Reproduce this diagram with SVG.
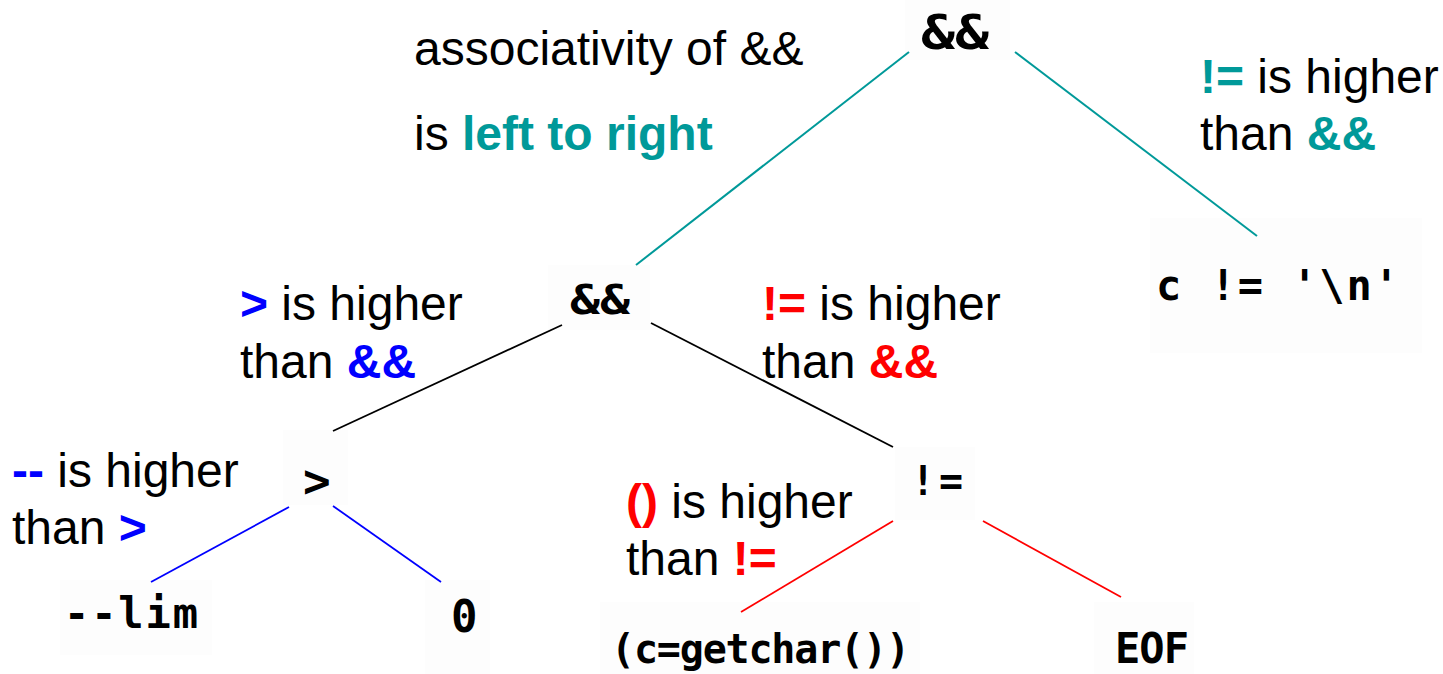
<svg xmlns="http://www.w3.org/2000/svg" width="1443" height="674" viewBox="0 0 1443 674">
<style>
.box{fill:#fdfdfd;stroke:none}
.code{font-family:"DejaVu Sans Mono","Liberation Mono",monospace;font-weight:bold;fill:#000}
.lbl{font-family:"Liberation Sans",Arial,sans-serif;font-size:48px;fill:#000}
.b{font-weight:bold}
.teal{fill:#009999}
.blue{fill:#0000ff}
.red{fill:#ff0000}
.lt{stroke:#009999;stroke-width:2}
.lk{stroke:#000;stroke-width:1.8}
.lb{stroke:#0000ff;stroke-width:1.8}
.lr{stroke:#ff0000;stroke-width:1.8}
</style>
<rect width="1443" height="674" fill="#fff"/>
<g id="node-and-top">
<rect class="box" x="905" y="0" width="105" height="60"/>
<text class="code" x="921" y="49" font-size="48" textLength="68" lengthAdjust="spacingAndGlyphs">&amp;&amp;</text>
</g>
<g id="node-neq-newline">
<rect class="box" x="1150" y="218" width="272" height="135"/>
<text class="code" x="1156" y="300" font-size="42" textLength="243" lengthAdjust="spacing" xml:space="preserve">c != '\n'</text>
</g>
<g id="node-and-mid">
<rect class="box" x="548" y="265" width="102" height="65"/>
<text class="code" x="570" y="314" font-size="40" textLength="60" lengthAdjust="spacingAndGlyphs">&amp;&amp;</text>
</g>
<g id="node-gt">
<rect class="box" x="283" y="430" width="65" height="75"/>
<text class="code" x="303" y="497" font-size="46">&gt;</text>
</g>
<g id="node-neq">
<rect class="box" x="895" y="447" width="80" height="73"/>
<text class="code" x="911" y="495" font-size="40" textLength="52" lengthAdjust="spacing">!=</text>
</g>
<g id="node-lim">
<rect class="box" x="60" y="580" width="152" height="75"/>
<text class="code" x="64" y="628" font-size="42" textLength="134" lengthAdjust="spacing">--lim</text>
</g>
<g id="node-zero">
<rect class="box" x="425" y="580" width="65" height="94"/>
<text class="code" x="451" y="632" font-size="44">0</text>
</g>
<g id="node-getchar">
<rect class="box" x="600" y="602" width="320" height="72"/>
<text class="code" x="611" y="663" font-size="40" textLength="299" lengthAdjust="spacing">(c=getchar())</text>
</g>
<g id="node-eof">
<rect class="box" x="1094" y="602" width="100" height="72"/>
<text class="code" x="1115" y="663" font-size="42" textLength="74" lengthAdjust="spacing">EOF</text>
</g>
<g id="connectors">
<line class="lt" x1="909" y1="52" x2="636" y2="265"/>
<line class="lt" x1="1015" y1="52" x2="1257" y2="236"/>
<line class="lk" x1="562" y1="325" x2="333" y2="431"/>
<line class="lk" x1="651" y1="323" x2="893" y2="447"/>
<line class="lb" x1="289" y1="507" x2="151" y2="582"/>
<line class="lb" x1="333" y1="506" x2="441" y2="582"/>
<line class="lr" x1="893" y1="521" x2="741" y2="612"/>
<line class="lr" x1="983" y1="521" x2="1121" y2="597"/>
</g>
<g id="labels">
<text class="lbl" x="414" y="65">associativity of &amp;&amp;</text>
<text class="lbl" x="414" y="150">is <tspan class="b teal">left to right</tspan></text>
<text class="lbl" x="1200" y="93"><tspan class="b teal">!=</tspan> is higher</text>
<text class="lbl" x="1200" y="150">than <tspan class="b teal">&amp;&amp;</tspan></text>
<text class="lbl" x="240" y="320"><tspan class="b blue">&gt;</tspan> is higher</text>
<text class="lbl" x="240" y="378">than <tspan class="b blue">&amp;&amp;</tspan></text>
<text class="lbl" x="762" y="320"><tspan class="b red">!=</tspan> is higher</text>
<text class="lbl" x="762" y="378">than <tspan class="b red">&amp;&amp;</tspan></text>
<text class="lbl" x="12" y="487"><tspan class="b blue">--</tspan> is higher</text>
<text class="lbl" x="12" y="544">than <tspan class="b blue">&gt;</tspan></text>
<text class="lbl" x="626" y="518"><tspan class="b red">()</tspan> is higher</text>
<text class="lbl" x="626" y="575">than <tspan class="b red">!=</tspan></text>
</g>
</svg>
